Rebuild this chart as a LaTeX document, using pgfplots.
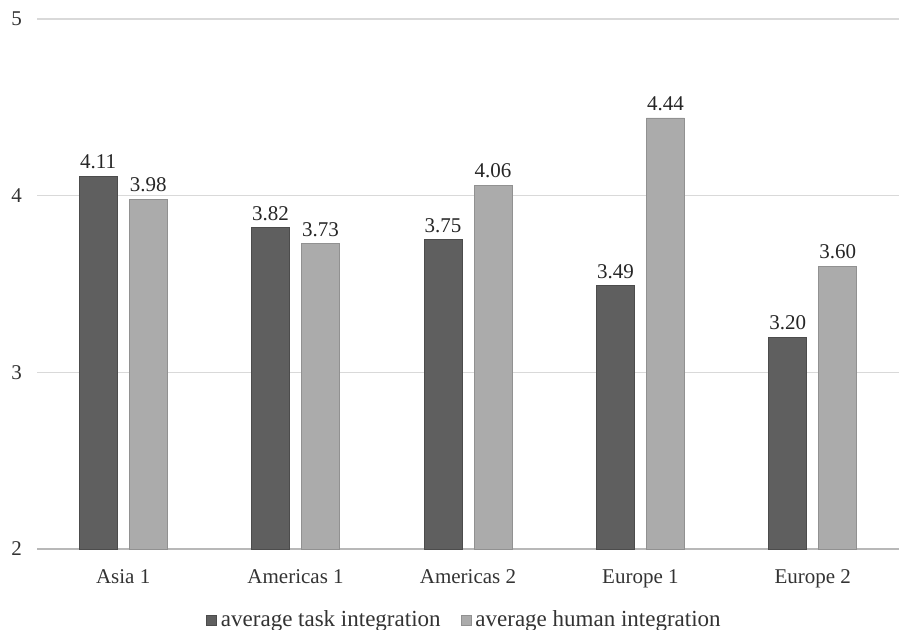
\documentclass[border=0pt]{standalone}
\usepackage{pgfplots}
\pgfplotsset{compat=1.18}
\usepackage{fontspec}
\setmainfont{Liberation Serif}
\definecolor{darkbar}{HTML}{5F5F5F}
\definecolor{lightbar}{HTML}{ABABAB}
\definecolor{gridc}{HTML}{D9D9D9}
\begin{document}
\begin{tikzpicture}[x=1pt,y=1pt]
\begin{axis}[
  at={(18.5pt,40pt)}, anchor=south west,
  scale only axis,
  width=431pt, height=265pt,
  xmin=-0.5, xmax=4.5, ymin=2, ymax=5,
  ytick={2,3,4,5},
  xtick={0,1,2,3,4},
  xticklabels={Asia 1, Americas 1, Americas 2, Europe 1, Europe 2},
  axis x line*=bottom,
  axis y line*=left,
  y axis line style={draw=none},
  x axis line style={draw=gridc!85!black, line width=0.6pt, -},
  ymajorgrids,
  grid style={draw=gridc, line width=0.6pt},
  major tick length=0pt,
  tick style={draw=none},
  font=\fontsize{10.5}{12}\selectfont,
  ticklabel style={font=\fontsize{10.5}{12}\selectfont, text=black!80},
  yticklabel style={xshift=-4pt},
  xticklabel style={yshift=-7pt},
  /pgf/number format/assume math mode=true,
  ybar=6pt,
  bar width=19pt,
  nodes near coords,
  nodes near coords style={font=\fontsize{10.5}{12}\selectfont, text=black!85, /pgf/number format/.cd, fixed, fixed zerofill, precision=2},
  legend style={at={(0.497,-0.134)}, anchor=center, draw=none, legend columns=2,
    font=\fontsize{11.5}{13}\selectfont, text=black!80, /tikz/every even column/.append style={column sep=8pt}},
  legend image code/.code={\draw[#1] (0pt,-2.5pt) rectangle (5pt,2.5pt);},
  axis on top=false,
  clip=true,
]
\addplot[fill=darkbar, draw=darkbar!80!black, line width=0.4pt] coordinates {(0,4.11) (1,3.82) (2,3.75) (3,3.49) (4,3.20)};
\addplot[fill=lightbar, draw=lightbar!85!black, line width=0.4pt] coordinates {(0,3.98) (1,3.73) (2,4.06) (3,4.44) (4,3.60)};
\legend{average task integration, average human integration}
\end{axis}
\pgfresetboundingbox
\path[use as bounding box] (0,0) rectangle (449.5pt,314.5pt);
\end{tikzpicture}
\end{document}
